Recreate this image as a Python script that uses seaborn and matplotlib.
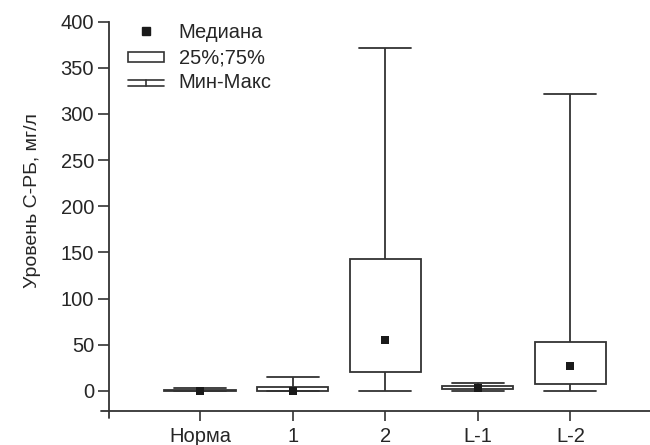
import numpy as np
import pandas as pd
import matplotlib
matplotlib.use("Agg")
import matplotlib.pyplot as plt
import seaborn as sns
from matplotlib.lines import Line2D
from matplotlib.patches import Rectangle
from matplotlib.legend_handler import HandlerBase

categories = ["Норма", "1", "2", "L-1", "L-2"]
mins = [0, 0, 0, 0, 0]
q1s = [0, 0, 20.5, 1.5, 7.3]
medians = [0, 0, 55, 3, 26.8]
q3s = [0.5, 3.6, 142.4, 4.8, 52.5]
maxs = [3.3, 14.6, 371, 8.4, 322]

ylabel = "Уровень С-РБ, мг/л"
yticks = [0, 50, 100, 150, 200, 250, 300, 350, 400]
legend_labels = ["Медиана", "25%;75%", "Мин-Макс"]

rows = []
for c, a, b, m, d, e in zip(categories, mins, q1s, medians, q3s, maxs):
    for v in (a, b, m, d, e):
        rows.append({"group": c, "value": v})
df = pd.DataFrame(rows)
med_df = pd.DataFrame({"group": categories, "value": medians})

sns.set_style("ticks")
plt.rcParams["font.family"] = ["Liberation Sans", "DejaVu Sans"]

LC = "#333333"
FS = 14.5
fig = plt.figure(figsize=(6.5, 4.45), dpi=100)
ax = fig.add_axes([109.3 / 650, 34.3 / 445, 1 - 109.3 / 650, (410.7 - 21.7) / 445])

sns.boxplot(data=df, x="group", y="value", order=categories, whis=(0, 100),
            width=0.77, color="white", linecolor=LC, linewidth=1.3,
            showfliers=False, medianprops={"visible": False},
            capwidths=0.56, ax=ax)
sns.stripplot(data=med_df, x="group", y="value", order=categories, jitter=False,
              marker="s", size=5.2, color="#1a1a1a", linewidth=0, ax=ax, zorder=5)

ax.set_xlim(-0.98, 4.86)
ax.set_ylim(-21.6, 400)
ax.set_yticks(yticks)
ax.set_xlabel("")
ax.set_ylabel(ylabel, fontsize=14)
ax.yaxis.set_label_coords(-0.126, 0.539)
ax.tick_params(axis="both", labelsize=FS, length=8, width=1.2, color=LC, direction="out")
ax.tick_params(axis="y", pad=3)
ax.tick_params(axis="x", length=7, pad=5)
for s in ("top", "right"):
    ax.spines[s].set_visible(False)
for s in ("left", "bottom"):
    ax.spines[s].set_color(LC)
    ax.spines[s].set_linewidth(1.3)

# corner extensions of the axis lines
ax.plot([-0.016, 0], [0, 0], transform=ax.transAxes, color=LC, lw=1.3, clip_on=False)
ax.plot([0, 0], [-0.019, 0], transform=ax.transAxes, color=LC, lw=1.3, clip_on=False)


class WhiskerHandler(HandlerBase):
    def create_artists(self, legend, orig_handle, xdescent, ydescent,
                       width, height, fontsize, trans):
        y0 = height * 0.15 - ydescent
        y1 = height * 0.55 - ydescent
        x0, x1 = -xdescent, width - xdescent
        xm = (x0 + x1) / 2
        arts = [Line2D([x0, x1], [y1, y1]), Line2D([x0, x1], [y0, y0]),
                Line2D([xm, xm], [y0, y1])]
        for a in arts:
            a.set_color(LC)
            a.set_linewidth(1.2)
            a.set_transform(trans)
        return arts


class BoxHandler(HandlerBase):
    def create_artists(self, legend, orig_handle, xdescent, ydescent,
                       width, height, fontsize, trans):
        r = Rectangle((-xdescent, -ydescent + height * 0.05), width, height * 0.7,
                      facecolor="white", edgecolor=LC, linewidth=1.2, transform=trans)
        return [r]


h_med = Line2D([], [], marker="s", markersize=5.2, color="#1a1a1a", linestyle="none")
h_box = Rectangle((0, 0), 1, 1)
h_wh = Line2D([], [])
fig.legend([h_med, h_box, h_wh], legend_labels, loc="upper left",
           bbox_to_anchor=(128 / 650, 1 - 23 / 445), frameon=False, fontsize=FS,
           handlelength=1.8, handletextpad=0.72, labelspacing=0.3, borderpad=0,
           borderaxespad=0, handler_map={h_box: BoxHandler(), h_wh: WhiskerHandler()})

fig.savefig("out.png", dpi=100)
